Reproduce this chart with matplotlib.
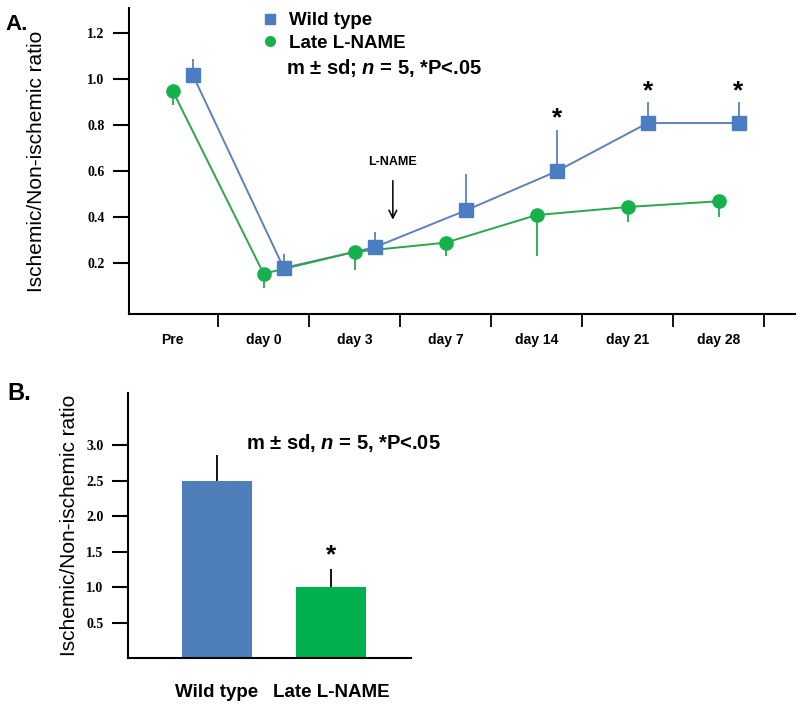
import matplotlib
matplotlib.use('Agg')
import matplotlib.pyplot as plt
import numpy as np
from matplotlib.lines import Line2D

plt.rcParams['font.family'] = ['Liberation Sans', 'DejaVu Sans']
plt.rcParams['mathtext.fontset'] = 'custom'
plt.rcParams['mathtext.it'] = 'Liberation Sans:italic:bold'
plt.rcParams['mathtext.rm'] = 'Liberation Sans:bold'

# panel A data
days = ['Pre', 'day 0', 'day 3', 'day 7', 'day 14', 'day 21', 'day 28']
wt_mean = [1.02, 0.18, 0.27, 0.43, 0.60, 0.81, 0.81]
wt_sd = [0.07, 0.06, 0.065, 0.16, 0.18, 0.09, 0.09]
lname_mean = [0.95, 0.155, 0.25, 0.29, 0.41, 0.445, 0.47]
lname_sd = [0.06, 0.06, 0.08, 0.06, 0.18, 0.065, 0.07]
signif = [False, False, False, False, True, True, True]

# panel B data
groups = ['Wild type', 'Late L-NAME']
bar_mean = [2.5, 1.0]
bar_sd = [0.36, 0.25]
bar_signif = [False, True]

blue_line = '#5E80BC'
blue_mk = '#4A7DC2'
green_line = '#27A84B'
green_mk = '#16B04D'
bar_cols = ['#4F7FBA', '#00B04F']

W, H = 800, 711
fig = plt.figure(figsize=(W / 100, H / 100), dpi=100)

serif_tick = dict(family='Liberation Serif', weight='bold', size=10)

# ---------------- panel A ----------------
ax = fig.add_axes([129 / W, 1 - 314 / H, (795 - 129) / W, (314 - 8) / H])
x = np.arange(len(days))
xw = x + 0.22

ax.errorbar(xw, wt_mean, yerr=[np.zeros(len(days)), wt_sd], fmt='none',
            ecolor=blue_line, elinewidth=1.3, capsize=0, zorder=2)
ax.errorbar(x, lname_mean, yerr=[lname_sd, np.zeros(len(days))], fmt='none',
            ecolor=green_line, elinewidth=1.3, capsize=0, zorder=2)
ax.plot(xw, wt_mean, color=blue_line, lw=1.4, zorder=3)
ax.plot(x, lname_mean, color=green_line, lw=1.4, zorder=3)
ax.plot(xw, wt_mean, ls='none', marker='s', ms=9.5, color=blue_mk, zorder=4)
ax.plot(x, lname_mean, ls='none', marker='o', ms=9.5, color=green_mk, zorder=4)

for xi, m, s, sg in zip(xw, wt_mean, wt_sd, signif):
    if sg:
        ax.text(xi, m + s + 0.05, '*', ha='center', va='center',
                fontsize=19, fontweight='bold')

ax.set_xlim(-0.48, 6.84)
ax.set_ylim(-0.02, 1.31)
ax.spines['top'].set_visible(False)
ax.spines['right'].set_visible(False)
for sp in ['left', 'bottom']:
    ax.spines[sp].set_linewidth(1.5)

ax.set_xticks(x + 0.5)
ax.set_xticklabels([])
ax.set_xticks(x, minor=True)
ax.set_xticklabels(days, minor=True, fontsize=10, fontweight='bold')
ax.tick_params(axis='x', which='major', direction='out', length=9.5, width=1.3)
ax.tick_params(axis='x', which='minor', length=0, pad=14)

yt = [0.2, 0.4, 0.6, 0.8, 1.0, 1.2]
ax.set_yticks(yt)
ax.set_yticklabels(['%.1f' % v for v in yt], fontdict=serif_tick)
ax.tick_params(axis='y', direction='out', length=11.5, width=1.5, pad=6)
ax.set_ylabel('Ischemic/Non-ischemic ratio', fontsize=15, labelpad=30)

# L-NAME arrow
ax.annotate('L-NAME', xy=(2.42, 0.39), xytext=(2.42, 0.64),
            ha='center', va='center', fontsize=9, fontweight='bold',
            arrowprops=dict(arrowstyle='->', color='black', lw=1.1,
                            shrinkA=7, shrinkB=0, mutation_scale=14))

handles = [Line2D([], [], ls='none', marker='s', ms=7, color=blue_mk),
           Line2D([], [], ls='none', marker='o', ms=7, color=green_mk)]
ax.legend(handles, ['Wild type', 'Late L-NAME'], loc='upper left',
          bbox_to_anchor=(261 / W, 1 - 12 / H), bbox_transform=fig.transFigure,
          frameon=False, prop=dict(weight='bold', size=13.5), handlelength=1.0,
          handletextpad=0.5, labelspacing=0.3, borderpad=0, borderaxespad=0)
fig.text(286 / W, 1 - 68 / H, r'm ± sd; $n$ = 5, *P<.05', fontsize=14.5,
         fontweight='bold', ha='left', va='center')

fig.text(5 / W, 1 - 25 / H, 'A.', fontsize=16, fontweight='bold', va='center')

# ---------------- panel B ----------------
bx = fig.add_axes([128 / W, 1 - 658 / H, (411 - 128) / W, (658 - 393) / H])
xb = np.arange(len(groups))
bx.bar(xb, bar_mean, width=0.61, color=bar_cols, zorder=2)
bx.errorbar(xb, bar_mean, yerr=[np.zeros(len(groups)), bar_sd], fmt='none',
            ecolor='black', elinewidth=1.3, capsize=0, zorder=1)
for xi, m, s, sg in zip(xb, bar_mean, bar_sd, bar_signif):
    if sg:
        bx.text(xi, m + s + 0.2, '*', ha='center', va='center',
                fontsize=19, fontweight='bold')

bx.set_xlim(-0.78, 1.70)
bx.set_ylim(0, 3.74)
bx.spines['top'].set_visible(False)
bx.spines['right'].set_visible(False)
for sp in ['left', 'bottom']:
    bx.spines[sp].set_linewidth(1.5)
bx.set_xticks(xb)
bx.set_xticklabels(groups, fontsize=13.5, fontweight='bold')
bx.tick_params(axis='x', length=0, pad=19)
ybt = [0.5, 1.0, 1.5, 2.0, 2.5, 3.0]
bx.set_yticks(ybt)
bx.set_yticklabels(['%.1f' % v for v in ybt], fontdict=serif_tick)
bx.tick_params(axis='y', direction='out', length=11.5, width=1.5, pad=6)
bx.set_ylabel('Ischemic/Non-ischemic ratio', fontsize=15, labelpad=5)

fig.text(246 / W, 1 - 443 / H, r'm ± sd, $n$ = 5, *P<.05', fontsize=14.5,
         fontweight='bold', ha='left', va='center')
fig.text(7 / W, 1 - 393 / H, 'B.', fontsize=17, fontweight='bold', va='center')

fig.savefig('out.png', dpi=100)
